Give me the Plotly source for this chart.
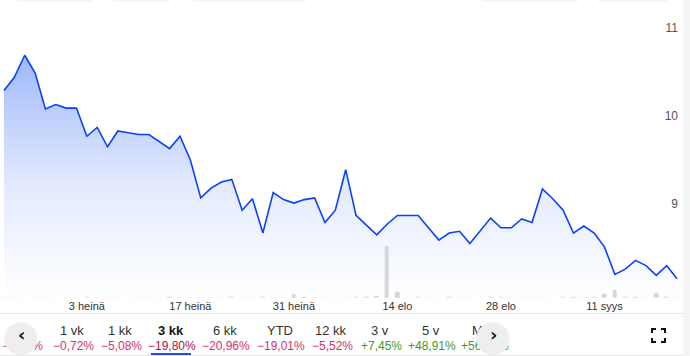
import pandas as pd
import plotly.graph_objects as go

# ---------------- data ----------------
dates = [d.strftime("%Y-%m-%d") for d in pd.bdate_range("2025-06-23", "2025-09-22")]

price = [10.29, 10.44, 10.69, 10.49, 10.08, 10.13, 10.09, 10.09, 9.77, 9.87,
         9.65, 9.83, 9.81, 9.79, 9.79, 9.71, 9.63, 9.77, 9.50, 9.07,
         9.18, 9.25, 9.28, 8.93, 9.06, 8.67, 9.13, 9.05, 9.01, 9.05,
         9.07, 8.79, 8.93, 9.39, 8.87, 8.76, 8.65, 8.77, 8.87, 8.87,
         8.87, 8.73, 8.59, 8.67, 8.69, 8.55, 8.70, 8.84, 8.73, 8.73,
         8.83, 8.79, 9.17, 9.06, 8.93, 8.67, 8.75, 8.67, 8.51, 8.20,
         8.26, 8.36, 8.30, 8.19, 8.30, 8.15]

volume = [0, 0, 0, 0, 0, 0, 0, 0, 10, 0,
          0, 0, 0, 0, 0, 0, 10, 0, 0, 0,
          0, 0, 8, 0, 0, 8, 0, 0, 40, 12,
          0, 0, 0, 0, 8, 8, 20, 520, 57, 0,
          8, 0, 0, 8, 0, 0, 0, 8, 8, 0,
          0, 0, 0, 0, 8, 8, 0, 8, 37, 80,
          8, 13, 0, 47, 8, 0]

tick_idx = [8, 18, 28, 38, 48, 58]
tick_text = ["3 heinä", "17 heinä", "31 heinä", "14 elo", "28 elo", "11 syys"]
y_ticks = [9, 10, 11]

periods = ["1 pv", "1 vk", "1 kk", "3 kk", "6 kk", "YTD", "12 kk", "3 v", "5 v", "Max"]
changes = ["−1,13%", "−0,72%", "−5,08%", "−19,80%", "−20,96%", "−19,01%", "−5,52%",
           "+7,45%", "+48,91%", "+56,71%"]
selected = "3 kk"

# ---------------- geometry helpers ----------------
W, H = 690, 356
PL, PR, PT, PB = 0, 681, 0, 298   # plot area in px


def px(xp):
    return (xp - PL) / (PR - PL)


def py(yp):
    return (PB - yp) / (PB - PT)


FONT = "Liberation Sans, Arial, sans-serif"
LINE = "#0a40fa"

fig = go.Figure()

fig.add_trace(go.Bar(
    x=dates, y=volume, yaxis="y2", marker=dict(color="#d6d6d6", cornerradius=2),
    width=0.45, hoverinfo="skip", showlegend=False))

fig.add_trace(go.Scatter(
    x=dates, y=price, mode="lines", line=dict(color=LINE, width=1.6),
    fill="tozeroy",
    fillgradient=dict(type="vertical", start=7.93, stop=10.75,
                      colorscale=[[0, "rgba(255,255,255,1)"], [0.45, "#e4ebfe"],
                                  [1, "#9cb6f9"]]),
    showlegend=False))

shapes = []
annotations = []

# faint marks at very top
for a, b in [(17, 92), (113, 170), (193, 306), (482, 578), (598, 667)]:
    shapes.append(dict(type="rect", xref="paper", yref="paper", x0=px(a), x1=px(b),
                       y0=py(1.2), y1=py(0), fillcolor="#f3f3f3", line_width=0, layer="below"))

# right gutter strip
shapes.append(dict(type="rect", xref="paper", yref="paper", x0=px(683), x1=px(690),
                   y0=py(356), y1=py(0), fillcolor="#f4f4f4", line_width=0, layer="above"))
# divider lines in bottom panel
shapes.append(dict(type="line", xref="paper", yref="paper", x0=px(0), x1=px(683),
                   y0=py(313.5), y1=py(313.5), line=dict(color="#e6e6e6", width=1)))
shapes.append(dict(type="line", xref="paper", yref="paper", x0=px(0), x1=px(683),
                   y0=py(355.5), y1=py(355.5), line=dict(color="#e6e6e6", width=1)))

# selected underline
shapes.append(dict(type="line", xref="paper", yref="paper", x0=px(151), x1=px(191),
                   y0=py(354), y1=py(354), line=dict(color="#1a4dff", width=2)))

# expand icon
cx, cy, s, k = 658.5, 335.5, 6.5, 4
for sx in (-1, 1):
    for sy in (-1, 1):
        x_c, y_c = cx + sx * s, cy + sy * s
        shapes.append(dict(type="path", xref="paper", yref="paper",
                           path=f"M {px(x_c - sx * k)} {py(y_c)} L {px(x_c)} {py(y_c)} L {px(x_c)} {py(y_c - sy * k)}",
                           line=dict(color="#111", width=2)))

# period labels and changes
col_x = [21, 72, 120, 171, 225, 280, 331, 380, 431, 484]
for name, ch, x in zip(periods, changes, col_x):
    sel = name == selected
    annotations.append(dict(xref="paper", yref="paper", x=px(x), y=py(330), text=f"<b>{name}</b>" if sel else name,
                            showarrow=False, font=dict(family=FONT, size=13, color="#111" if sel else "#333"),
                            xanchor="center", yanchor="middle"))
    if ch.startswith("+"):
        col = "#3f9a2e"
    else:
        col = "#b3124b" if sel else "#d4336d"
    annotations.append(dict(xref="paper", yref="paper", x=px(x + 1), y=py(345.5), text=ch,
                            showarrow=False, font=dict(family=FONT, size=12, color=col),
                            xanchor="center", yanchor="middle"))

# scroll buttons (drawn after the texts so they cover them)
for x, glyph in [(21, "‹"), (493, "›")]:
    annotations.append(dict(xref="paper", yref="paper", x=px(x), y=py(335.5), text="●",
                            showarrow=False, font=dict(family="DejaVu Sans", size=43, color="#eeeeee"),
                            xanchor="center", yanchor="middle"))
    annotations.append(dict(xref="paper", yref="paper", x=px(x), y=py(334), text=f"<b>{glyph}</b>",
                            showarrow=False, font=dict(family="DejaVu Sans", size=18, color="#111"),
                            xanchor="center", yanchor="middle"))

fig.update_layout(
    width=W, height=H,
    margin=dict(l=PL, r=W - PR, t=PT, b=H - PB),
    paper_bgcolor="white", plot_bgcolor="white",
    font=dict(family=FONT),
    bargap=0,
    xaxis=dict(type="category", range=[-0.386, 65.386], showgrid=False, zeroline=False,
               showline=False, ticks="", tickmode="array",
               tickvals=[dates[i] for i in tick_idx], ticktext=tick_text,
               tickfont=dict(family=FONT, size=11, color="#333"), fixedrange=True),
    yaxis=dict(range=[7.932, 11.318], side="right", ticklabelposition="inside",
               tickvals=y_ticks, showgrid=False, zeroline=False, showline=False, ticks="",
               tickfont=dict(family=FONT, size=12, color="#555"), fixedrange=True),
    yaxis2=dict(range=[0, 2980], overlaying="y", visible=False, fixedrange=True),
    shapes=shapes, annotations=annotations,
)

fig.write_html("out.html")
